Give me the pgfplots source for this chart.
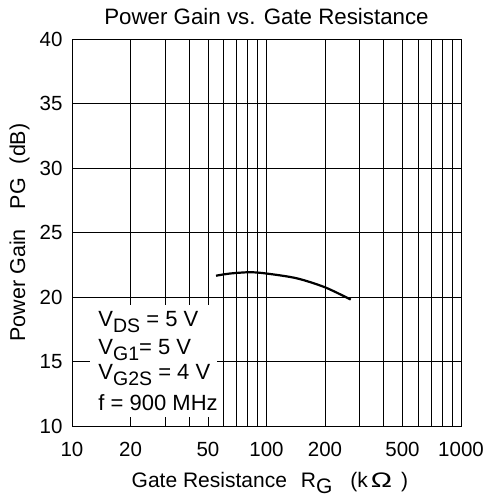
\documentclass[border=0pt]{standalone}
\usepackage{fontspec}
\setmainfont{Liberation Sans}
\usepackage{pgfplots}
\pgfplotsset{compat=1.18}
\begin{document}
\begin{tikzpicture}
\begin{axis}[
  at={(0,0)}, anchor=south west,
  scale only axis, width=389bp, height=387bp,
  xmode=log, xmin=10, xmax=1000, ymin=10, ymax=40,
  xtick={10,20,50,100,200,500,1000},
  xticklabels={10,20,50,100,200,500,1000},
  minor xtick={30,40,60,70,80,90,300,400,600,700,800,900},
  ytick={10,15,20,25,30,35,40},
  yticklabels={10,15,20,25,30,35,40},
  grid=both,
  major grid style={black, line width=0.55bp},
  minor grid style={black, line width=0.55bp},
  major tick length=0pt, minor tick length=0pt,
  axis line style={black, line width=0.8bp},
  /pgf/number format/assume math mode=true,
  ticklabel style={font=\fontsize{20.5bp}{22bp}\selectfont},
  xticklabel style={yshift=-13bp},
  yticklabel style={xshift=-6bp},
  clip=false,
]
\fill[white] (rel axis cs:0.046,0.023) rectangle (rel axis cs:0.373,0.313);
\addplot[black, line width=2.2bp, smooth] coordinates {
  (55,21.65) (65,21.82) (82,21.92) (100,21.82) (143,21.45) (200,20.75) (271,19.8)
};
\node[anchor=base west, font=\fontsize{22bp}{25bp}\selectfont] at (rel axis cs:0.059,0.2566) {V\raisebox{-6bp}{\fontsize{19.5bp}{20bp}\selectfont DS} = 5 V};
\node[anchor=base west, font=\fontsize{22bp}{25bp}\selectfont] at (rel axis cs:0.059,0.186) {V\raisebox{-6bp}{\fontsize{19.5bp}{20bp}\selectfont G1}= 5 V};
\node[anchor=base west, font=\fontsize{22bp}{25bp}\selectfont] at (rel axis cs:0.059,0.119) {V\raisebox{-6bp}{\fontsize{19.5bp}{20bp}\selectfont G2S} = 4 V};
\node[anchor=base west, font=\fontsize{22bp}{25bp}\selectfont] at (rel axis cs:0.059,0.041) {f = 900 MHz};
\node[anchor=base, font=\fontsize{22.3bp}{25bp}\selectfont] at (rel axis cs:0.5,1.0362) {Power Gain vs. Gate Resistance};
\node[anchor=base west, font=\fontsize{21bp}{24bp}\selectfont] at (rel axis cs:0.1445,-0.160) {Gate Resistance\hspace{14bp}R\raisebox{-6bp}{G}\hspace{18bp}(k\hspace{3bp}\scalebox{1.35}[1]{Ω}\hspace{9bp})};
\node[anchor=base, rotate=90, font=\fontsize{21.5bp}{24bp}\selectfont] at (rel axis cs:-0.1208,0.5) {Power Gain\hspace{20bp}PG\hspace{14bp}(dB)};
\end{axis}
\pgfresetboundingbox
\useasboundingbox (-72bp,-71bp) rectangle (419bp,426bp);
\end{tikzpicture}
\end{document}
